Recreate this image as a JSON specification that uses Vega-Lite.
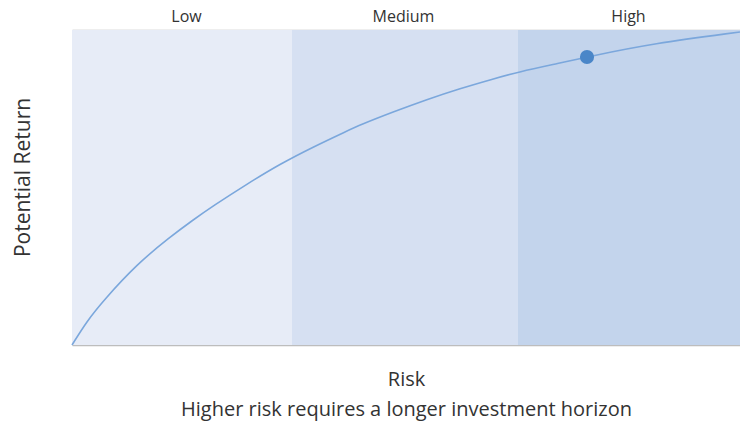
{
  "$schema": "https://vega.github.io/schema/vega-lite/v6.json",
  "width": 668,
  "height": 315,
  "autosize": {"type": "none"},
  "padding": {"left": 72, "top": 30, "right": 0, "bottom": 79},
  "background": "white",
  "config": {
    "view": {"stroke": null},
    "font": "Open Sans",
    "axis": {"labelColor": "#333333", "titleColor": "#333333", "titleFontWeight": "normal", "grid": false}
  },
  "datasets": {
    "bands": [
      {"band": "Low", "start": 0, "end": 220},
      {"band": "Medium", "start": 220, "end": 446},
      {"band": "High", "start": 446, "end": 668}
    ],
    "curve": [
      {"risk": 0, "ret": 0},
      {"risk": 15, "ret": 24},
      {"risk": 31, "ret": 44},
      {"risk": 65, "ret": 81},
      {"risk": 98, "ret": 108},
      {"risk": 121, "ret": 125},
      {"risk": 141, "ret": 139},
      {"risk": 175, "ret": 161},
      {"risk": 208, "ret": 181},
      {"risk": 241, "ret": 198},
      {"risk": 275, "ret": 214},
      {"risk": 288, "ret": 220},
      {"risk": 321, "ret": 233},
      {"risk": 355, "ret": 245.5},
      {"risk": 388, "ret": 256.5},
      {"risk": 421, "ret": 266},
      {"risk": 446, "ret": 273},
      {"risk": 488, "ret": 282},
      {"risk": 515, "ret": 288},
      {"risk": 581, "ret": 301.5},
      {"risk": 668, "ret": 313}
    ],
    "marker": [{"risk": 515, "ret": 288}]
  },
  "layer": [
    {
      "data": {"name": "bands"},
      "mark": {"type": "rect"},
      "encoding": {
        "x": {
          "field": "start", "type": "quantitative",
          "scale": {"domain": [0, 668], "nice": false, "zero": false},
          "axis": {
            "orient": "top", "title": null, "values": [114, 331, 556],
            "labelExpr": "datum.value < 200 ? 'Low' : (datum.value < 400 ? 'Medium' : 'High')",
            "ticks": false, "labelFontSize": 16, "labelPadding": 6,
            "domain": true, "domainColor": "#bdbdbd", "domainWidth": 1.5
          }
        },
        "x2": {"field": "end"},
        "color": {
          "field": "band", "type": "nominal",
          "scale": {"domain": ["Low", "Medium", "High"], "range": ["#E7ECF7", "#D6E0F2", "#C3D4EC"]},
          "legend": null
        }
      }
    },
    {
      "data": {"name": "curve"},
      "mark": {"type": "line", "interpolate": "basis", "color": "#7BA7DC", "strokeWidth": 1.6},
      "encoding": {
        "x": {
          "field": "risk", "type": "quantitative",
          "scale": {"domain": [0, 668], "nice": false, "zero": false},
          "axis": {
            "orient": "bottom", "labels": false, "ticks": false,
            "domain": true, "domainColor": "#bdbdbd", "domainWidth": 1.5,
            "title": ["Risk", "Higher risk requires a longer investment horizon"],
            "titleFontSize": 20, "titleLineHeight": 30, "titlePadding": 24
          }
        },
        "y": {
          "field": "ret", "type": "quantitative",
          "scale": {"domain": [0, 315], "nice": false, "zero": false},
          "axis": {
            "labels": false, "ticks": false, "domain": false,
            "title": "Potential Return", "titleFontSize": 21, "titlePadding": 39, "titleY": 147
          }
        }
      }
    },
    {
      "data": {"name": "marker"},
      "mark": {"type": "point", "filled": true, "opacity": 1, "color": "#4A86C8", "size": 200},
      "encoding": {
        "x": {"field": "risk", "type": "quantitative", "axis": null},
        "y": {"field": "ret", "type": "quantitative", "axis": null}
      }
    }
  ],
  "resolve": {"axis": {"x": "independent", "y": "independent"}}
}
